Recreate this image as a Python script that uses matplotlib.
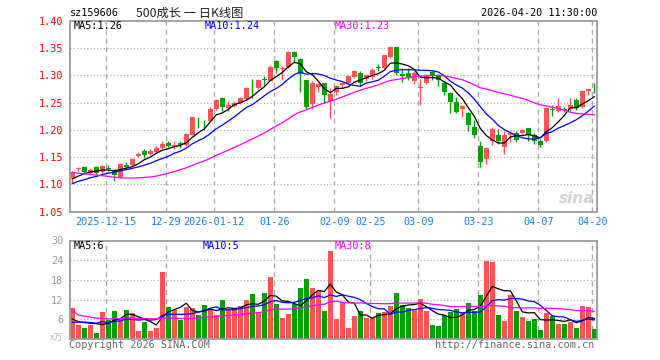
import numpy as np
import pandas as pd
import matplotlib
matplotlib.use('Agg')
import matplotlib.pyplot as plt

# daily K-line of sz159606, 2025-12-05 .. 2026-04-20 (88 sessions)
opens = [1.111, 1.128, 1.131, 1.120, 1.131, 1.122, 1.130, 1.126, 1.114, 1.136,
         1.136, 1.152, 1.162, 1.155, 1.160, 1.166, 1.176, 1.168, 1.175, 1.172,
         1.191, 1.213, 1.209, 1.217, 1.239, 1.258, 1.240, 1.244, 1.249, 1.256,
         1.277, 1.276, 1.293, 1.290, 1.327, 1.312, 1.316, 1.343, 1.329, 1.291,
         1.248, 1.278, 1.285, 1.252, 1.269, 1.282, 1.285, 1.297, 1.304, 1.293,
         1.296, 1.314, 1.313, 1.333, 1.351, 1.302, 1.304, 1.290, 1.277, 1.285,
         1.306, 1.298, 1.286, 1.267, 1.251, 1.239, 1.230, 1.206, 1.170, 1.147,
         1.180, 1.191, 1.169, 1.191, 1.194, 1.194, 1.203, 1.190, 1.179, 1.179,
         1.238, 1.235, 1.238, 1.238, 1.254, 1.241, 1.271, 1.275]
highs = [1.124, 1.132, 1.132, 1.130, 1.133, 1.136, 1.136, 1.128, 1.140, 1.141,
         1.148, 1.159, 1.164, 1.164, 1.170, 1.179, 1.180, 1.179, 1.179, 1.194,
         1.224, 1.224, 1.218, 1.242, 1.256, 1.261, 1.252, 1.253, 1.261, 1.278,
         1.294, 1.294, 1.298, 1.318, 1.328, 1.317, 1.344, 1.344, 1.332, 1.292,
         1.289, 1.285, 1.286, 1.276, 1.283, 1.288, 1.301, 1.310, 1.307, 1.302,
         1.313, 1.320, 1.338, 1.352, 1.352, 1.313, 1.314, 1.307, 1.293, 1.302,
         1.308, 1.302, 1.289, 1.270, 1.261, 1.246, 1.232, 1.218, 1.180, 1.168,
         1.205, 1.201, 1.198, 1.197, 1.198, 1.202, 1.204, 1.194, 1.184, 1.242,
         1.245, 1.259, 1.241, 1.259, 1.258, 1.272, 1.274, 1.285]
lows = [1.102, 1.125, 1.121, 1.118, 1.117, 1.120, 1.125, 1.106, 1.112, 1.129,
        1.134, 1.150, 1.149, 1.153, 1.158, 1.165, 1.168, 1.164, 1.166, 1.171,
        1.190, 1.203, 1.200, 1.216, 1.237, 1.235, 1.235, 1.241, 1.247, 1.254,
        1.258, 1.274, 1.283, 1.289, 1.305, 1.291, 1.314, 1.323, 1.270, 1.239,
        1.239, 1.269, 1.249, 1.221, 1.263, 1.277, 1.284, 1.295, 1.280, 1.290,
        1.294, 1.308, 1.312, 1.332, 1.300, 1.287, 1.291, 1.284, 1.246, 1.284,
        1.292, 1.281, 1.263, 1.230, 1.230, 1.223, 1.198, 1.185, 1.132, 1.137,
        1.173, 1.174, 1.156, 1.177, 1.178, 1.192, 1.179, 1.174, 1.169, 1.177,
        1.226, 1.233, 1.232, 1.235, 1.236, 1.240, 1.264, 1.267]
closes = [1.122, 1.130, 1.122, 1.127, 1.120, 1.133, 1.129, 1.117, 1.138, 1.132,
          1.146, 1.156, 1.154, 1.162, 1.167, 1.174, 1.170, 1.173, 1.173, 1.192,
          1.223, 1.212, 1.208, 1.239, 1.255, 1.241, 1.245, 1.250, 1.258, 1.277,
          1.276, 1.292, 1.291, 1.316, 1.313, 1.314, 1.343, 1.333, 1.302, 1.241,
          1.286, 1.284, 1.264, 1.266, 1.280, 1.286, 1.298, 1.307, 1.286, 1.300,
          1.309, 1.313, 1.337, 1.351, 1.304, 1.298, 1.297, 1.304, 1.279, 1.299,
          1.300, 1.292, 1.269, 1.251, 1.232, 1.243, 1.208, 1.190, 1.141, 1.166,
          1.202, 1.180, 1.191, 1.194, 1.182, 1.200, 1.190, 1.180, 1.173, 1.240,
          1.237, 1.244, 1.237, 1.245, 1.240, 1.271, 1.274, 1.274]
# volume, 万手
volumes = [9.4, 4.3, 3.4, 4.3, 1.9, 8.2, 5.9, 8.5, 6.3, 8.8,
           7.8, 2.5, 5.1, 2.5, 3.4, 20.3, 9.7, 8.9, 5.9, 9.7,
           9.3, 7.3, 10.3, 9.1, 7.3, 11.8, 9.1, 9.1, 10.1, 11.8,
           13.6, 8.3, 13.9, 18.8, 10.6, 6.4, 7.6, 10.6, 15.4, 18.2,
           15.4, 14.5, 8.6, 26.9, 6.1, 11.3, 3.4, 7.0, 8.6, 6.3,
           6.3, 7.8, 8.1, 10.0, 13.9, 10.3, 9.4, 8.9, 12.1, 8.6,
           4.3, 4.0, 7.3, 8.3, 9.1, 8.0, 11.0, 8.5, 13.4, 23.9,
           23.3, 7.3, 5.6, 13.3, 8.6, 6.6, 5.6, 6.1, 2.6, 7.9,
           7.0, 4.6, 4.6, 5.1, 3.4, 10.0, 9.7, 3.1]

# the 29 sessions before the window, only used to seed the moving averages
pre_closes = [1.168, 1.162, 1.158, 1.161, 1.163, 1.170, 1.166, 1.158, 1.150, 1.147,
              1.141, 1.139, 1.133, 1.118, 1.102, 1.085, 1.080, 1.076, 1.082, 1.088,
              1.085, 1.094, 1.090, 1.098, 1.096, 1.104, 1.101, 1.110, 1.113]
pre_volumes = [52.0, 14.0, 11.7, 12.0, 11.0, 11.0, 5.0, 6.2, 4.8, 7.0,
               5.5, 6.1, 4.6, 5.7, 11.0, 9.5, 12.0, 8.6, 10.0, 8.0,
               4.0, 3.5, 5.2, 4.1, 3.7, 8.3, 4.9, 5.3, 2.6]

tick_labels = ['2025-12-15', '12-29', '2026-01-12', '01-26', '02-09',
               '02-25', '03-09', '03-23', '04-07', '04-20']
tick_pos = [6, 16, 24, 34, 44, 50, 58, 68, 78, 87]
price_grid = [6, 16, 24, 34, 44, 58, 68, 78, 87]
vol_grid = [6, 16, 34, 50, 58, 68, 78, 87]
price_ticks = [1.05, 1.10, 1.15, 1.20, 1.25, 1.30, 1.35, 1.40]
vol_ticks = [6, 12, 18, 24, 30]

RED = '#ff5454'
GREEN = '#00a000'
GRID = '#ababab'
MONO = 'DejaVu Sans Mono'
CJK = ['Noto Sans CJK SC', 'DejaVu Sans']

o = np.array(opens); h = np.array(highs); l = np.array(lows); c = np.array(closes)
v = np.array(volumes)
x = np.arange(len(c))
cols = np.where(c >= o, RED, GREEN)


def ma(pre, vals, n):
    s = pd.Series(list(pre) + list(vals)).rolling(n, min_periods=1).mean()
    return s.values[len(pre):]


W, H = 660, 360


def box(left, top, right, bottom):
    return [left / W, 1 - bottom / H, (right - left) / W, (bottom - top) / H]


fig = plt.figure(figsize=(6.6, 3.6), dpi=100)
fig.patch.set_facecolor('white')
ax = fig.add_axes(box(70.3, 20.7, 597.3, 211.7))
axv = fig.add_axes(box(70.3, 240.5, 597.3, 339))

# ---- price panel
for yv in price_ticks[1:-1]:
    ax.axhline(yv, color=GRID, lw=0.8, ls=(0, (1, 2)), zorder=0)
for p in price_grid:
    ax.axvline(p - 0.33, color=GRID, lw=1, ls=(0, (3.6, 2.8)), zorder=0)

ax.vlines(x, l, h, colors=cols, lw=1, zorder=2)
body = np.maximum(np.abs(c - o), 0.0013)
ax.bar(x, body, bottom=np.minimum(o, c), width=0.8, color=cols, lw=0, zorder=2)

ma5 = ma(pre_closes, closes, 5)
ma10 = ma(pre_closes, closes, 10)
ma30 = ma(pre_closes, closes, 30)
ax.plot(x, ma5, color='black', lw=0.9, zorder=3)
ax.plot(x, ma10, color='#0000ff', lw=0.9, zorder=3)
ax.plot(x, ma30, color='#ff00ff', lw=0.9, zorder=3)

ax.set_xlim(-0.33, 87.5)
ax.set_ylim(1.05, 1.40)
ax.set_yticks(price_ticks, [f'{t:.2f}' for t in price_ticks])
ax.set_xticks([p - 0.33 for p in tick_pos], tick_labels)
ax.tick_params(axis='y', length=0, pad=5, labelsize=7.3, labelcolor='#ff0000')
ax.tick_params(axis='x', length=0, pad=4, labelsize=7.3, labelcolor='#1a7fd6')
for t in ax.get_xticklabels() + ax.get_yticklabels():
    t.set_family(MONO)

ax.text(0.995, 0.03, 'sina', transform=ax.transAxes, ha='right', va='bottom',
        fontsize=11, color='#d4d4d4', fontweight='bold', style='italic', zorder=1)

# ---- volume panel
for yv in vol_ticks[:-1]:
    axv.axhline(yv, color=GRID, lw=0.8, ls=(0, (1, 2)), zorder=0)
for p in vol_grid:
    axv.axvline(p - 0.33, color=GRID, lw=1, ls=(0, (3.6, 2.8)), zorder=0)

axv.bar(x, v, width=0.84, color=cols, lw=0, zorder=2)
vma5 = ma(pre_volumes, volumes, 5)
vma10 = ma(pre_volumes, volumes, 10)
vma30 = ma(pre_volumes, volumes, 30)
axv.plot(x, vma5, color='black', lw=0.9, zorder=3)
axv.plot(x, vma10, color='#0000ff', lw=0.9, zorder=3)
axv.plot(x, vma30, color='#ff00ff', lw=0.9, zorder=3)

axv.set_xlim(-0.33, 87.5)
axv.set_ylim(0, 30)
axv.set_yticks(vol_ticks, [str(t) for t in vol_ticks])
axv.set_xticks([])
axv.tick_params(axis='y', length=0, pad=5, labelsize=7.3, labelcolor='#999999')
for t in axv.get_yticklabels():
    t.set_family(MONO)

for a in (ax, axv):
    for s in a.spines.values():
        s.set_color('#9c9c9c')
        s.set_linewidth(1.3)

# ---- texts
def ftext(px, py, s, **kw):
    kw.setdefault('family', MONO)
    kw.setdefault('fontsize', 7.3)
    kw.setdefault('va', 'center')
    fig.text(px / W, 1 - py / H, s, **kw)


ftext(70, 13, 'sz159606', color='black')
ftext(136, 13, '500成长 一 日K线图', family=CJK, fontsize=8.8, color='#222222')
ftext(597.5, 13, '2026-04-20 11:30:00', ha='right', color='black')

ftext(74, 26, f'MA5:{ma5[-1]:.2f}', color='black')
ftext(205, 26, f'MA10:{ma10[-1]:.2f}', color='#0000ff')
ftext(335, 26, f'MA30:{ma30[-1]:.2f}', color='#ff00ff')

ftext(74, 246, f'MA5:{int(vma5[-1])}', color='black')
ftext(203, 246, f'MA10:{int(vma10[-1])}', color='#0000ff')
ftext(335, 246, f'MA30:{int(vma30[-1])}', color='#ff00ff')

ftext(63, 338.5, 'x万', family=CJK, fontsize=6.5, color='#b0b0b0', ha='right')
ftext(68.6, 345, 'Copyright 2026 SINA.COM', color='#666666')
ftext(594, 345, 'http://finance.sina.com.cn', ha='right', color='#666666')

fig.savefig('out.png', dpi=100)
